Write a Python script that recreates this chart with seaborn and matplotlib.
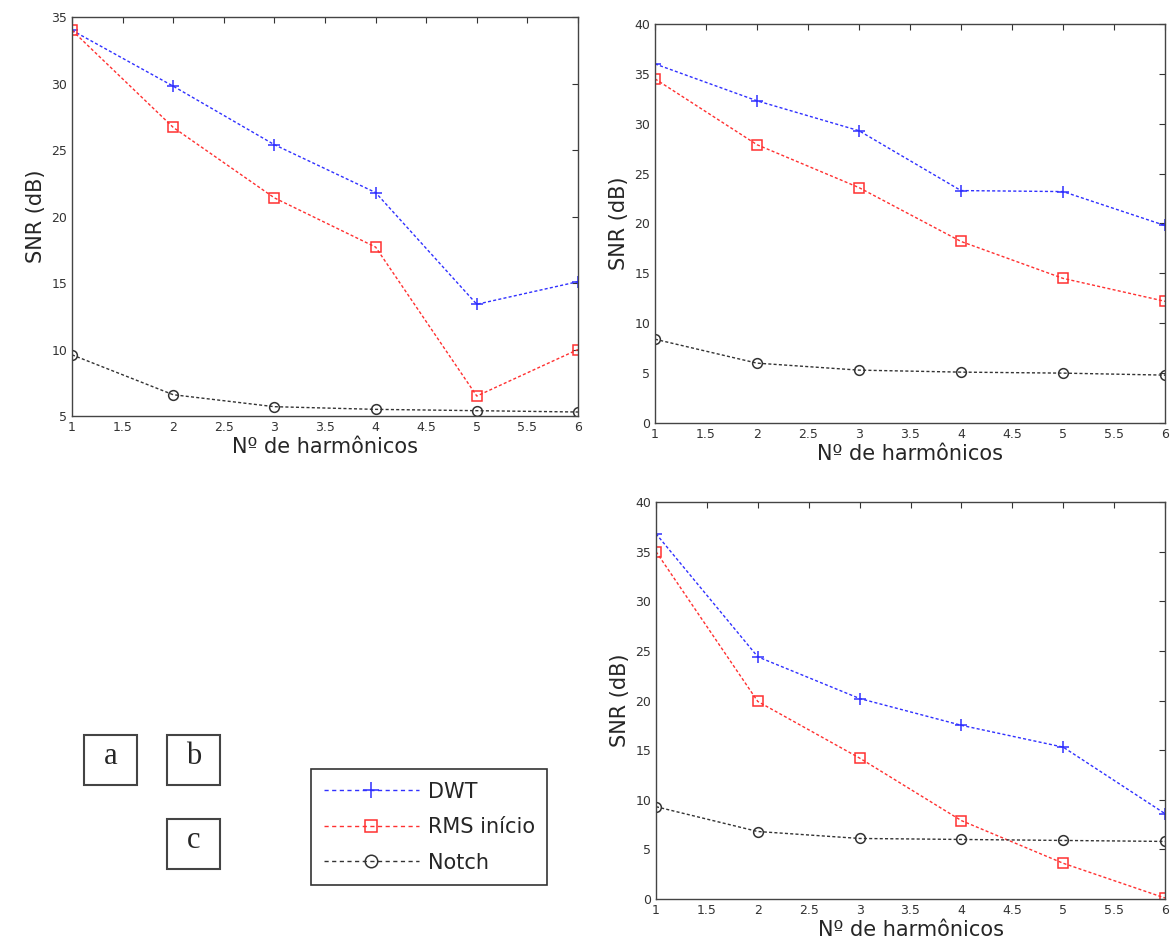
import numpy as np
import pandas as pd
import matplotlib
matplotlib.use("Agg")
import matplotlib.pyplot as plt
import seaborn as sns
from matplotlib.lines import Line2D
from matplotlib.patches import Rectangle

harmonicos = [1, 2, 3, 4, 5, 6]

dwt_a = [34.0, 29.8, 25.4, 21.8, 13.4, 15.1]
rms_a = [34.0, 26.7, 21.4, 17.7, 6.5, 10.0]
notch_a = [9.6, 6.6, 5.7, 5.5, 5.4, 5.3]

dwt_b = [36.0, 32.3, 29.3, 23.3, 23.2, 19.8]
rms_b = [34.5, 27.9, 23.6, 18.2, 14.5, 12.2]
notch_b = [8.4, 6.0, 5.3, 5.1, 5.0, 4.8]

dwt_c = [36.8, 24.4, 20.2, 17.5, 15.3, 8.6]
rms_c = [35.0, 19.9, 14.2, 7.9, 3.6, 0.1]
notch_c = [9.3, 6.8, 6.1, 6.0, 5.9, 5.8]

series = ["DWT", "RMS início", "Notch"]
cores = {"DWT": "#3030ff", "RMS início": "#ff3030", "Notch": "#333333"}
marcadores = {"DWT": "+", "RMS início": "s", "Notch": "o"}
tamanhos = {"DWT": 9, "RMS início": 7, "Notch": 7}
tracejado = (0, (2.2, 1.6))

sns.set_style("white")
plt.rcParams['font.family'] = ['DejaVu Sans']

W, H = 1175, 950
fig = plt.figure(figsize=(W / 100, H / 100), dpi=100)


def caixa(l, t, r, b):
    return [l / W, 1 - b / H, (r - l) / W, (b - t) / H]


def painel(rect, dwt, rms, notch, ylim, yticks):
    ax = fig.add_axes(caixa(*rect))
    df = pd.DataFrame({
        "x": harmonicos * 3,
        "y": dwt + rms + notch,
        "serie": np.repeat(series, len(harmonicos)),
    })
    for s in series:
        d = df[df["serie"] == s]
        sns.lineplot(data=d, x="x", y="y", ax=ax, color=cores[s], linestyle=tracejado,
                     linewidth=1.0, marker=marcadores[s], markersize=tamanhos[s],
                     markerfacecolor="none", markeredgecolor=cores[s], markeredgewidth=1.1)
    ax.set_xlim(1, 6)
    ax.set_ylim(*ylim)
    ax.set_xticks(np.arange(1, 6.01, 0.5))
    ax.set_xticklabels(["1", "1.5", "2", "2.5", "3", "3.5", "4", "4.5", "5", "5.5", "6"])
    ax.set_yticks(yticks)
    ax.tick_params(direction="in", top=True, right=True, length=4, labelsize=9,
                   colors="#333333", width=0.8)
    for sp in ax.spines.values():
        sp.set_color("#444444")
        sp.set_linewidth(1.0)
    ax.set_xlabel("Nº de harmônicos", fontsize=15, labelpad=2)
    ax.set_ylabel("SNR (dB)", fontsize=15, labelpad=4)
    return ax


painel((72, 17, 578, 416), dwt_a, rms_a, notch_a, (5, 35), range(5, 36, 5))
painel((655, 24, 1165, 423), dwt_b, rms_b, notch_b, (0, 40), range(0, 41, 5))
painel((656, 502, 1165, 899), dwt_c, rms_c, notch_c, (0, 40), range(0, 41, 5))

# legenda
handles = [Line2D([0], [0], color=cores[s], linestyle=(0, (3, 2.5)), linewidth=1.0,
                  marker=marcadores[s], markersize=tamanhos[s] + 2, markerfacecolor="none",
                  markeredgecolor=cores[s], markeredgewidth=1.1) for s in series]
leg = fig.legend(handles, series, loc="upper left", bbox_to_anchor=(311 / W, 1 - 769 / H),
                 frameon=True, fancybox=False, fontsize=15, handlelength=4.6,
                 borderpad=0.6, labelspacing=0.75, handletextpad=0.4, borderaxespad=0)
leg.get_frame().set_edgecolor("black")
leg.get_frame().set_linewidth(1.2)

# caixas a, b, c
for letra, (l, t, r, b) in [("a", (84, 735, 137, 785)), ("b", (167, 735, 220, 785)),
                            ("c", (167, 819, 220, 869))]:
    fig.patches.append(Rectangle((l / W, 1 - b / H), (r - l) / W, (b - t) / H,
                                 transform=fig.transFigure, facecolor="white",
                                 edgecolor="#444444", linewidth=1.5))
    fig.text((l + r) / 2 / W, 1 - (t + b) / 2 / H + 0.004, letra, ha="center", va="center",
             fontsize=22, family="Liberation Serif")

fig.savefig("out.png", dpi=100)
